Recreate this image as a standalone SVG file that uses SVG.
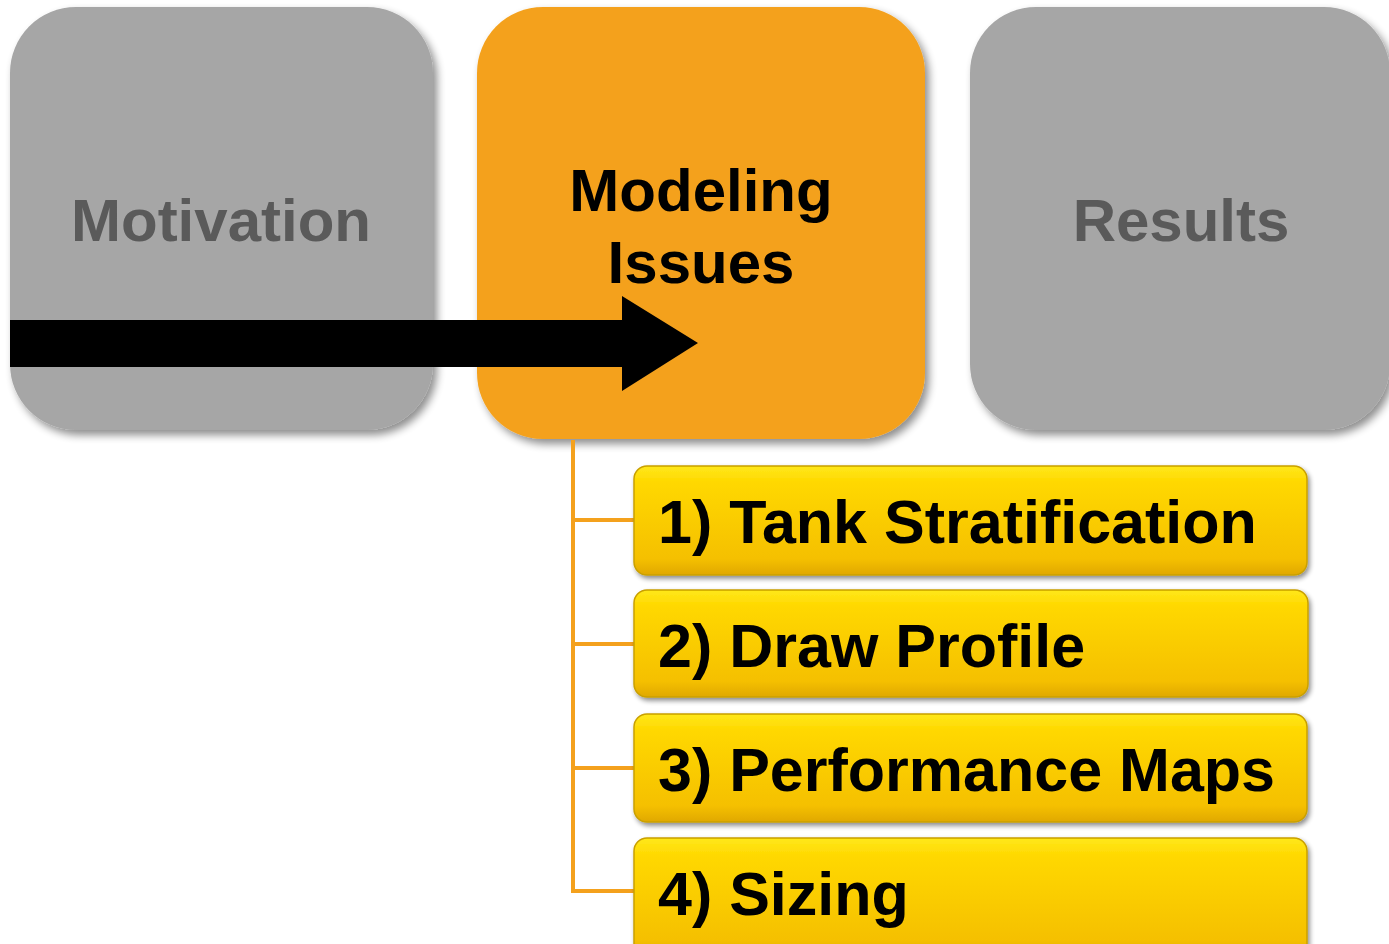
<svg xmlns="http://www.w3.org/2000/svg" width="1389" height="944" viewBox="0 0 1389 944">
<defs>
<style>
.big{font-family:"Liberation Sans",Arial,sans-serif;font-weight:bold;font-size:60px}
.gray{fill:#a6a6a6}
.graytxt{fill:#5a5a5a}
.item{font-family:"Liberation Sans",Arial,sans-serif;font-weight:bold;font-size:61px;fill:#000}
.conn{stroke:#f4a11d;stroke-width:4;fill:none}
.ybox{fill:url(#yg);stroke:#c9a000;stroke-width:1.5}
</style>
<filter id="sh" x="-10%" y="-10%" width="125%" height="125%">
<feGaussianBlur in="SourceAlpha" stdDeviation="4"/>
<feOffset dx="4" dy="5" result="o"/>
<feComponentTransfer><feFuncA type="linear" slope="0.45"/></feComponentTransfer>
<feMerge><feMergeNode/><feMergeNode in="SourceGraphic"/></feMerge>
</filter>
<filter id="sh2" x="-5%" y="-20%" width="110%" height="150%">
<feGaussianBlur in="SourceAlpha" stdDeviation="2.5"/>
<feOffset dx="2" dy="3" result="o"/>
<feComponentTransfer><feFuncA type="linear" slope="0.45"/></feComponentTransfer>
<feMerge><feMergeNode/><feMergeNode in="SourceGraphic"/></feMerge>
</filter>
<linearGradient id="yg" x1="0" y1="0" x2="0" y2="1">
<stop offset="0" stop-color="#ffe81a"/>
<stop offset="0.15" stop-color="#ffd800"/>
<stop offset="0.85" stop-color="#f5c000"/>
<stop offset="1" stop-color="#e0a800"/>
</linearGradient>
</defs>
<rect width="1389" height="944" fill="#fff"/>

<g id="motivation">
<rect class="gray" x="10" y="7" width="423" height="423" rx="66" filter="url(#sh)"/>
<text class="big graytxt" x="221" y="241" text-anchor="middle">Motivation</text>
</g>

<g id="results">
<rect class="gray" x="970" y="7" width="420" height="423" rx="66" filter="url(#sh)"/>
<text class="big graytxt" x="1181" y="241" text-anchor="middle">Results</text>
</g>

<g id="modeling">
<rect x="477" y="7" width="448" height="432" rx="66" fill="#f4a11d" filter="url(#sh)"/>
<text class="big" x="701" y="211" text-anchor="middle" fill="#000">Modeling</text>
<text class="big" x="701" y="283" text-anchor="middle" fill="#000">Issues</text>
</g>

<g id="arrow">
<polygon points="10,320 622,320 622,296 698,343 622,391 622,367 10,367" fill="#000"/>
</g>

<g id="connectors">
<path class="conn" d="M573,440 V891 H634"/>
<path class="conn" d="M573,520 H634"/>
<path class="conn" d="M573,644 H634"/>
<path class="conn" d="M573,768 H634"/>
</g>

<g id="item1">
<rect class="ybox" x="634" y="466" width="673" height="109" rx="13" filter="url(#sh2)"/>
<text class="item" x="658" y="543">1) Tank Stratification</text>
</g>
<g id="item2">
<rect class="ybox" x="634" y="590" width="674" height="107" rx="13" filter="url(#sh2)"/>
<text class="item" x="658" y="667">2) Draw Profile</text>
</g>
<g id="item3">
<rect class="ybox" x="634" y="714" width="673" height="108" rx="13" filter="url(#sh2)"/>
<text class="item" x="658" y="791">3) Performance Maps</text>
</g>
<g id="item4">
<rect class="ybox" x="634" y="838" width="673" height="120" rx="13" filter="url(#sh2)"/>
<text class="item" x="658" y="915">4) Sizing</text>
</g>
</svg>
